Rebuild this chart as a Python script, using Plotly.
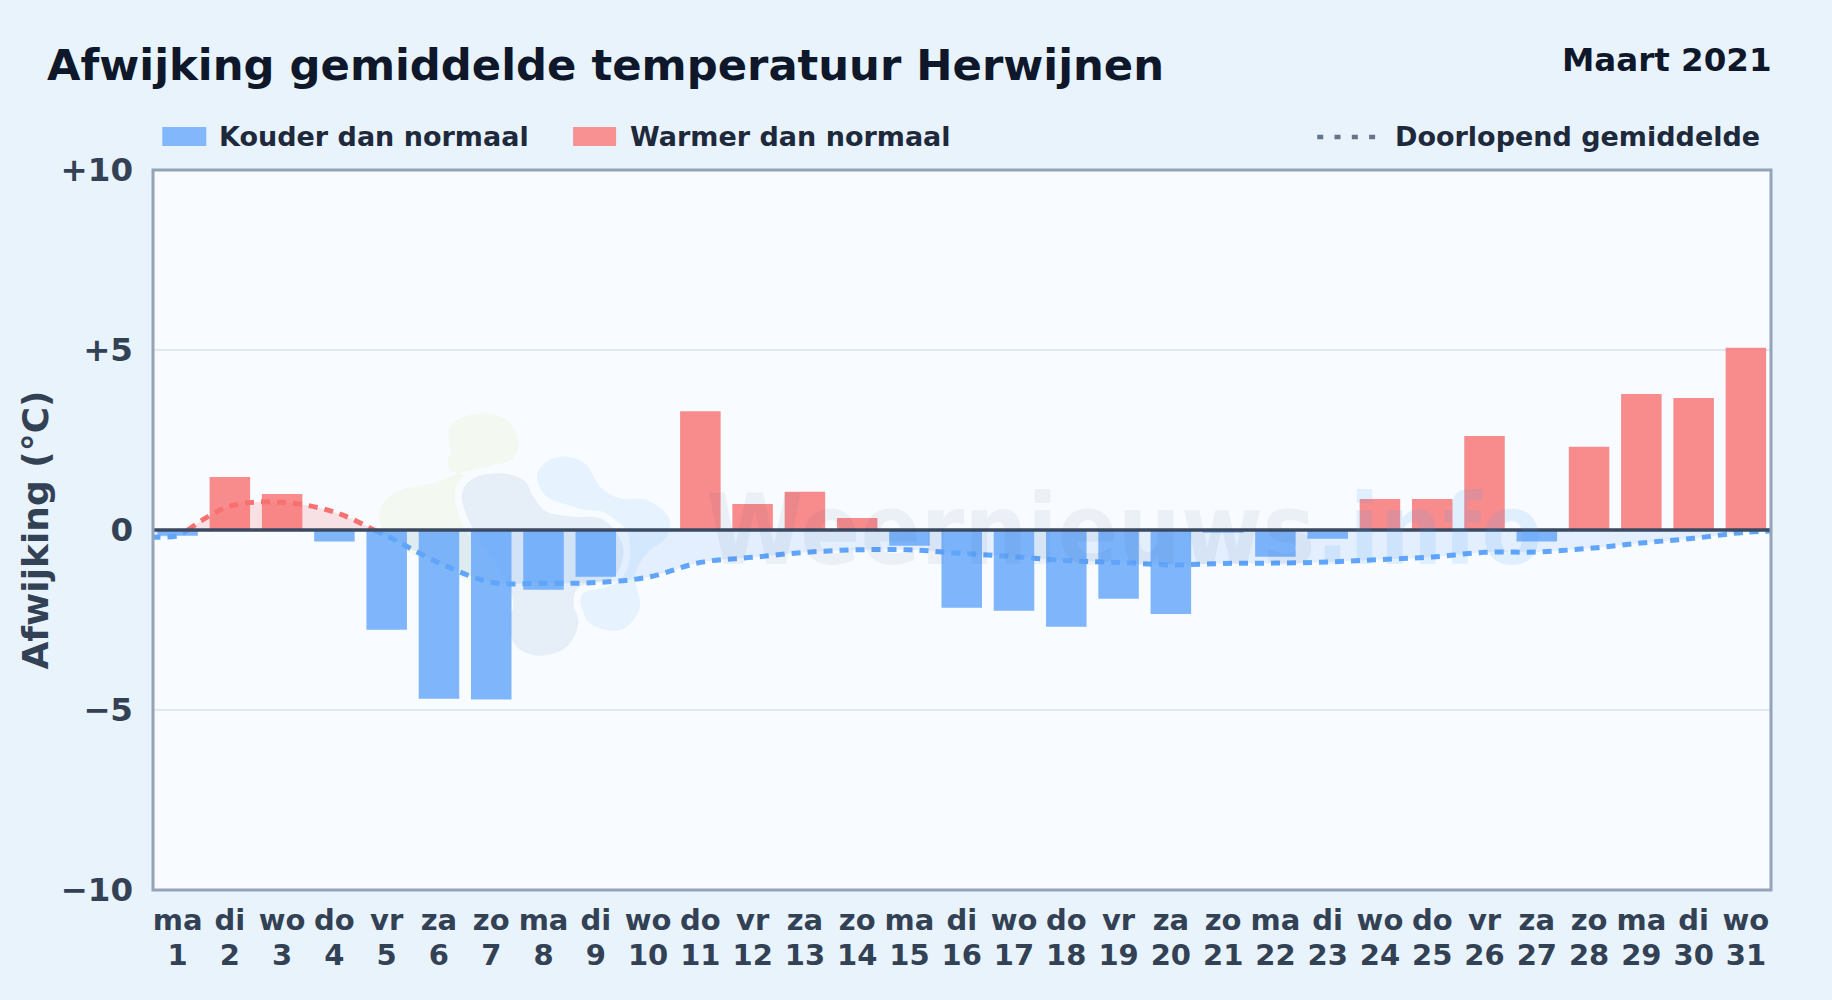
import plotly.graph_objects as go

weekdays = ["ma","di","wo","do","vr","za","zo","ma","di","wo","do","vr","za","zo","ma","di",
            "wo","do","vr","za","zo","ma","di","wo","do","vr","za","zo","ma","di","wo"]
days = list(range(1, 32))
deviation = [-0.16,1.47,1.00,-0.32,-2.77,-4.69,-4.71,-1.66,-1.30,0.0,3.30,0.72,1.06,0.33,-0.44,
             -2.16,-2.24,-2.69,-1.91,-2.33,-0.075,-0.74,-0.24,0.86,0.86,2.61,-0.32,2.31,3.78,3.67,5.06]
running_mean = [-0.16,0.66,0.77,0.50,-0.16,-0.91,-1.45,-1.48,-1.46,-1.31,-0.90,-0.76,-0.62,-0.55,-0.55,
                -0.65,-0.74,-0.85,-0.90,-0.97,-0.93,-0.92,-0.89,-0.82,-0.75,-0.62,-0.61,-0.51,-0.36,-0.23,-0.06]
edge_left, edge_right = -0.20, -0.03
yticks = [-10, -5, 0, 5, 10]
yticktext = ["\u221210", "\u22125", "0", "+5", "+10"]

PAPER = "#e8f3fc"
PLOT = "#f8fbff"
L, R, T, B = 152.7, 1771.5, 170.0, 890.0
F = "DejaVu Sans"
XRANGE = [0.53, 31.48]


def xp(x):
    return (x - L) / (R - L)


def yp(y):
    return (B - y) / (B - T)


def blob(points):
    n = len(points)
    d = "M %.5f,%.5f" % (xp(points[0][0]), yp(points[0][1]))
    for i in range(n):
        p0, p1, p2, p3 = points[i - 1], points[i], points[(i + 1) % n], points[(i + 2) % n]
        c1 = (p1[0] + (p2[0] - p0[0]) / 6, p1[1] + (p2[1] - p0[1]) / 6)
        c2 = (p2[0] - (p3[0] - p1[0]) / 6, p2[1] - (p3[1] - p1[1]) / 6)
        d += " C %.5f,%.5f %.5f,%.5f %.5f,%.5f" % (xp(c1[0]), yp(c1[1]), xp(c2[0]), yp(c2[1]), xp(p2[0]), yp(p2[1]))
    return d + " Z"


def z(points):
    return [(360 + a / 3, 390 + b / 3) for a, b in points]


green = z([(265,130),(290,90),(370,70),(440,90),(475,150),(460,205),(400,225),(340,240),(280,255),(220,280),
           (120,300),(65,345),(60,400),(100,460),(250,540),(400,600),(480,610),(560,560),(400,300),(270,240),(272,180)])
grey = z([(305,320),(340,265),(420,250),(490,270),(520,320),(560,365),(640,380),(720,385),(770,430),(790,490),
          (760,560),(660,590),(640,640),(655,700),(620,770),(540,797),(470,770),(445,700),(460,640),(430,560),(340,420)])
light = z([(530,260),(560,215),(620,200),(680,225),(720,290),(780,325),(860,330),(925,380),(920,440),(860,490),
           (825,560),(840,650),(800,710),(750,722),(690,700),(655,640),(670,570),(800,480),(780,400),(640,350),(560,320)])


def logo_part(points, colour):
    halo = dict(type="path", path=blob(points), xref="paper", yref="paper", layer="below",
                fillcolor=PLOT, line=dict(color=PLOT, width=14))
    fill = dict(type="path", path=blob(points), xref="paper", yref="paper", layer="below",
                fillcolor=colour, line=dict(width=0))
    return [halo, fill]


shapes = [
    dict(type="path", path=blob(green), xref="paper", yref="paper", layer="below",
         fillcolor="#f3f9f1", line=dict(width=0)),
    *logo_part(light, "#e6f3fe"),
    *logo_part(grey, "#e6eef7"),
    dict(type="line", xref="paper", yref="y", x0=0, x1=1, y0=0, y1=0, layer="above",
         line=dict(color="#3b4a60", width=3.6)),
    dict(type="rect", xref="paper", yref="paper", x0=0, x1=1, y0=0, y1=1, layer="above",
         fillcolor="rgba(0,0,0,0)", line=dict(color="#94a3b8", width=3)),
    dict(type="rect", xref="paper", yref="paper", x0=xp(162), x1=xp(206), y0=yp(127), y1=yp(146),
         fillcolor="#82b7fc", line=dict(width=0)),
    dict(type="rect", xref="paper", yref="paper", x0=xp(573), x1=xp(616), y0=yp(127), y1=yp(146),
         fillcolor="#f89191", line=dict(width=0)),
    dict(type="line", xref="paper", yref="paper", x0=xp(1317.5), x1=xp(1376), y0=yp(137), y1=yp(137),
         line=dict(color="#64748b", width=4.5, dash="6px,11.3px")),
]

annotations = [
    dict(text="Afwijking gemiddelde temperatuur Herwijnen", x=xp(45), y=yp(65), xanchor="left", yanchor="middle",
         font=dict(size=43.3, color="#0f172a", family=F, weight="bold")),
    dict(text="Maart 2021", x=xp(1775), y=yp(60), xanchor="right", yanchor="middle",
         font=dict(size=32.5, color="#0f172a", family=F, weight="bold")),
    dict(text="Kouder dan normaal", x=xp(217), y=yp(137), xanchor="left", yanchor="middle",
         font=dict(size=27, color="#1e293b", family=F, weight="bold")),
    dict(text="Warmer dan normaal", x=xp(628), y=yp(137), xanchor="left", yanchor="middle",
         font=dict(size=27, color="#1e293b", family=F, weight="bold")),
    dict(text="Doorlopend gemiddelde", x=xp(1393), y=yp(137), xanchor="left", yanchor="middle",
         font=dict(size=27, color="#1e293b", family=F, weight="bold")),
    dict(text='<span style="color:rgba(30,64,120,0.06)">Weernieuws</span>'
              '<span style="color:rgba(59,156,246,0.12)">.info</span>',
         x=xp(1124), y=yp(530), xanchor="center", yanchor="middle",
         font=dict(size=98.5, family="DejaVu Sans Condensed, DejaVu Sans", weight="bold")),
]
for a in annotations:
    a.update(xref="paper", yref="paper", showarrow=False, align="left")

cold = [v if v < 0 else None for v in deviation]
warm = [v if v > 0 else None for v in deviation]

# Running mean split in blue (below zero) and red (above zero) runs at its zero crossings.
lx = [0.5] + days + [31.5]
ly = [edge_left] + running_mean + [edge_right]
bx, by, rx, ry = [], [], [], []
for i in range(len(lx)):
    if i > 0 and ly[i - 1] * ly[i] < 0:
        cx = lx[i - 1] + (lx[i] - lx[i - 1]) * (0 - ly[i - 1]) / (ly[i] - ly[i - 1])
        bx.append(cx); by.append(0); rx.append(cx); ry.append(0)
        if ly[i] > 0:
            bx.append(None); by.append(None)
        else:
            rx.append(None); ry.append(None)
    if ly[i] >= 0:
        rx.append(lx[i]); ry.append(ly[i])
    else:
        bx.append(lx[i]); by.append(ly[i])

fig = go.Figure()
fig.add_trace(go.Scatter(x=bx, y=by, mode="lines", name="Doorlopend gemiddelde", fill="tozeroy",
                         fillcolor="rgba(96,165,250,0.14)", line=dict(color="rgba(0,0,0,0)", width=0, shape="spline"),
                         hoverinfo="skip"))
fig.add_trace(go.Scatter(x=rx, y=ry, mode="lines", name="Doorlopend gemiddelde", fill="tozeroy",
                         fillcolor="rgba(248,113,113,0.18)", line=dict(color="rgba(0,0,0,0)", width=0, shape="spline"),
                         hoverinfo="skip"))
fig.add_trace(go.Bar(x=days, y=cold, name="Kouder dan normaal", marker=dict(color="rgba(96,165,250,0.8)", line=dict(width=0))))
fig.add_trace(go.Bar(x=days, y=warm, name="Warmer dan normaal", marker=dict(color="rgba(248,113,113,0.8)", line=dict(width=0))))
fig.add_trace(go.Scatter(x=bx, y=by, mode="lines", name="Doorlopend gemiddelde",
                         line=dict(color="#60a5fa", width=5, shape="spline", dash="9px,7px")))
fig.add_trace(go.Scatter(x=rx, y=ry, mode="lines", name="Doorlopend gemiddelde",
                         line=dict(color="#f87171", width=5, shape="spline", dash="9px,7px")))
# Invisible carrier so the second bottom axis (day numbers) is drawn.
fig.add_trace(go.Scatter(x=days, y=[None] * len(days), xaxis="x2", mode="lines", showlegend=False, hoverinfo="skip"))

tickf = dict(size=29, color="#334155", family=F, weight="bold")
fig.update_layout(
    width=1832, height=1000, autosize=False, showlegend=False,
    margin=dict(l=L, r=1832 - R, t=T, b=1000 - B, pad=0),
    paper_bgcolor=PAPER, plot_bgcolor=PLOT,
    barmode="overlay", bargap=0.225,
    shapes=shapes, annotations=annotations,
    font=dict(family=F, color="#334155"),
    xaxis=dict(range=XRANGE, tickmode="array", tickvals=days, ticktext=weekdays,
               tickangle=0, tickfont=tickf,
               showgrid=False, zeroline=False, showline=False,
               ticks="", ticklabelstandoff=10, automargin=False),
    xaxis2=dict(range=XRANGE, overlaying="x", side="bottom", tickmode="array", tickvals=days,
                ticktext=[str(d) for d in days], tickangle=0, tickfont=tickf,
                showgrid=False, zeroline=False, showline=False, ticks="", ticklabelstandoff=45, automargin=False),
    yaxis=dict(range=[-10, 10], tickmode="array", tickvals=yticks, ticktext=yticktext,
               tickfont=dict(size=32.5, color="#334155", family=F, weight="bold"),
               showgrid=True, gridcolor="#e2e8f0", gridwidth=2, zeroline=False,
               showline=False, ticks="", ticklabelstandoff=19,
               automargin=False,
               title=dict(text="Afwijking (\u00b0C)", standoff=0,
                          font=dict(size=36, color="#334155", family=F, weight="bold"))),
)
fig.write_html("out.html", config=dict(displayModeBar=False),
               post_script="document.body.style.margin='0';document.body.style.background='#e8f3fc';")
